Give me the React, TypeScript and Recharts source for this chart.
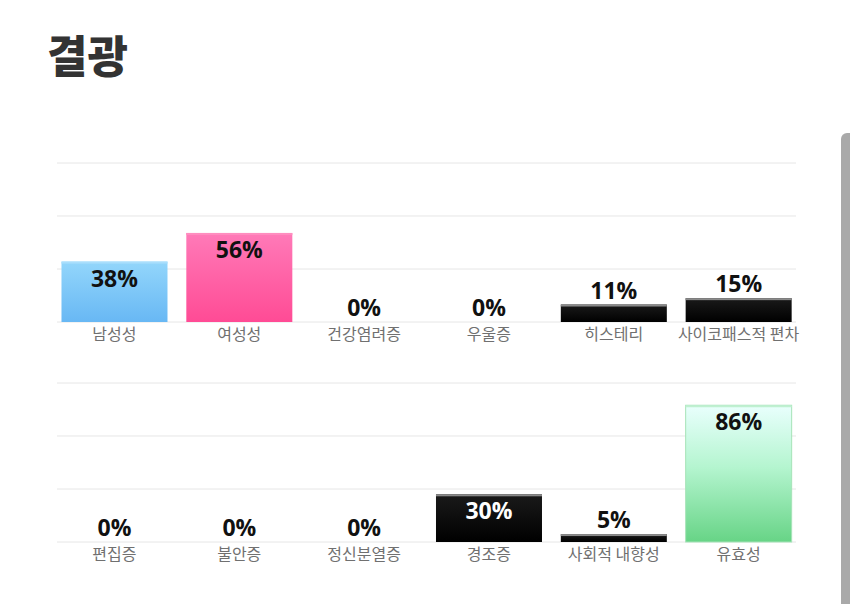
import React from 'react';
import { BarChart, Bar, XAxis, YAxis, CartesianGrid, LabelList, Cell } from 'recharts';

const topCategories = ['남성성', '여성성', '건강염려증', '우울증', '히스테리', '사이코패스적 편차'];
const topValues = [38, 56, 0, 0, 11, 15];
const bottomCategories = ['편집증', '불안증', '정신분열증', '경조증', '사회적 내향성', '유효성'];
const bottomValues = [0, 0, 0, 30, 5, 86];
const gridTicks = [0, 33.333, 66.667, 100];

const topStyles = ['blue', 'pink', 'black', 'black', 'black', 'black'];
const bottomStyles = ['black', 'black', 'black', 'black', 'black', 'green'];

const STYLE: Record<string, { fill: string; edge: string; stroke: string }> = {
  blue: { fill: 'url(#gBlue)', edge: '#a9defc', stroke: 'none' },
  pink: { fill: 'url(#gPink)', edge: '#ff8dbf', stroke: 'none' },
  black: { fill: 'url(#gBlack)', edge: '#8a8a8a', stroke: 'none' },
  green: { fill: 'url(#gGreen)', edge: '#bff0d0', stroke: '#a6e3b8' },
};

const FONT = '"Noto Sans CJK KR", "Noto Sans", sans-serif';

function Defs() {
  return (
    <defs>
      <linearGradient id="gBlue" x1="0" y1="0" x2="0" y2="1">
        <stop offset="0%" stopColor="#93d6fb" />
        <stop offset="100%" stopColor="#68b8f4" />
      </linearGradient>
      <linearGradient id="gPink" x1="0" y1="0" x2="0" y2="1">
        <stop offset="0%" stopColor="#ff7ab8" />
        <stop offset="100%" stopColor="#ff4b95" />
      </linearGradient>
      <linearGradient id="gBlack" x1="0" y1="0" x2="0" y2="1">
        <stop offset="0%" stopColor="#1a1a1a" />
        <stop offset="100%" stopColor="#000000" />
      </linearGradient>
      <linearGradient id="gGreen" x1="0" y1="0" x2="0" y2="1">
        <stop offset="0%" stopColor="#e9fffd" />
        <stop offset="45%" stopColor="#b5f5d0" />
        <stop offset="100%" stopColor="#67d486" />
      </linearGradient>
    </defs>
  );
}

function makeShape(styles: string[]) {
  return (props: any) => {
    const { x, y, width, height, index } = props;
    if (!height || height <= 0) return <g />;
    const s = STYLE[styles[index]];
    return (
      <g>
        <rect x={x} y={y} width={width} height={height} fill={s.fill} stroke={s.stroke} strokeWidth={1} />
        <rect x={x} y={y} width={width} height={Math.min(2, height)} fill={s.edge} />
      </g>
    );
  };
}

function makeLabel(styles: string[]) {
  return (props: any) => {
    const { x, y, width, value, index } = props;
    const inside = value >= 20;
    const white = styles[index] === 'black' && inside;
    return (
      <text
        x={x + width / 2}
        y={inside ? y + 25 : y - 6}
        textAnchor="middle"
        fontFamily='"Open Sans", "Noto Sans", sans-serif'
        fontWeight={700}
        fontSize={23}
        fill={white ? '#ffffff' : '#111111'}
      >
        {value}%
      </text>
    );
  };
}

const Tick = (props: any) => {
  const { x, y, payload } = props;
  return (
    <text x={x} y={y + 17.5} textAnchor="middle" fontFamily={FONT} fontSize={16} fill="#707070">
      {payload.value}
    </text>
  );
};

function Row({ cats, vals, styles, top }: { cats: string[]; vals: number[]; styles: string[]; top: number }) {
  const data = cats.map((c, i) => ({ name: c, value: vals[i] }));
  return (
    <div style={{ position: 'absolute', left: 0, top, width: 850, height: 230 }}>
      <BarChart
        width={850}
        height={230}
        data={data}
        margin={{ top: 23, right: 54, left: 57, bottom: 18 }}
        barCategoryGap="7.6%"
      >
        <Defs />
        <CartesianGrid vertical={false} stroke="#e6e6e6" strokeWidth={1} />
        <YAxis hide domain={[0, 100]} ticks={gridTicks} />
        <XAxis
          dataKey="name"
          axisLine={false}
          tickLine={false}
          tickSize={0}
          tickMargin={0}
          tick={<Tick />}
          interval={0}
          height={30}
          padding={{ left: -5, right: -5 }}
        />
        <Bar dataKey="value" isAnimationActive={false} shape={makeShape(styles)}>
          {data.map((d, i) => (
            <Cell key={i} fill={STYLE[styles[i]].fill} />
          ))}
          <LabelList dataKey="value" content={makeLabel(styles)} />
        </Bar>
      </BarChart>
    </div>
  );
}

export default function App() {
  return (
    <div style={{ position: 'absolute', left: 0, top: 0, width: 850, height: 604, background: '#fff', overflow: 'hidden' }}>
      <div
        style={{
          position: 'absolute',
          left: 47,
          top: 24,
          fontFamily: FONT,
          fontWeight: 900,
          fontSize: 44,
          color: '#333333',
          letterSpacing: 0,
          lineHeight: '60px',
        }}
      >
        결광
      </div>
      <Row cats={topCategories} vals={topValues} styles={topStyles} top={140} />
      <Row cats={bottomCategories} vals={bottomValues} styles={bottomStyles} top={360} />
      <div
        style={{
          position: 'absolute',
          left: 841,
          top: 133,
          width: 12,
          height: 480,
          background: '#a9a9a9',
          borderTopLeftRadius: 6,
        }}
      />
    </div>
  );
}
